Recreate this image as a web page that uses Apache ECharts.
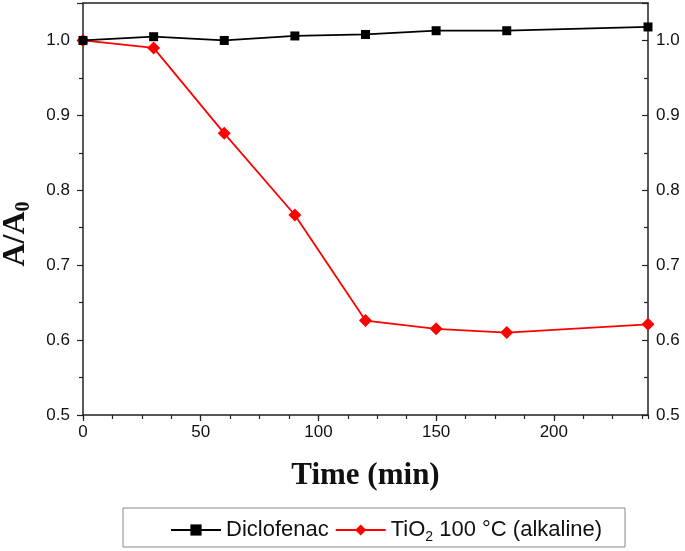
<!DOCTYPE html>
<html><head><meta charset="utf-8">
<script src="https://cdn.jsdelivr.net/npm/echarts@6/dist/echarts.min.js"></script>
<style>html,body{margin:0;padding:0;background:#fff}#c{width:685px;height:551px}</style>
</head><body><div id="c"></div>
<script>
const times = [0, 30, 60, 90, 120, 150, 180, 240];
const diclofenac = [1.0, 1.005, 1.0, 1.006, 1.008, 1.013, 1.013, 1.018];
const tio2 = [1.0, 0.99, 0.876, 0.767, 0.626, 0.615, 0.610, 0.621];
const seriesNames = ['Diclofenac', 'TiO2 100 °C (alkaline)'];

const chart = echarts.init(document.getElementById('c'));
const lab = {fontFamily: 'Liberation Sans', fontSize: 17, color: '#111'};
chart.setOption({
  animation: false,
  grid: {left: 83, right: 37, top: 3, bottom: 136, outerBoundsMode: 'none', containLabel: false},
  graphic: [{type: 'rect', z: -1, shape: {x: 123, y: 508, width: 502, height: 39},
    style: {fill: '#fff', stroke: '#888', lineWidth: 1}}],
  legend: {
    left: 165, top: 514, itemGap: 6, itemWidth: 50, itemHeight: 14,
    textStyle: {fontFamily: 'Liberation Sans', fontSize: 22, color: '#111',
      rich: {sub: {fontFamily: 'Liberation Sans', fontSize: 14, verticalAlign: 'bottom', padding: [14, 0, 0, 0]}}},
    formatter: n => n === seriesNames[1] ? 'TiO{sub|2} 100 °C (alkaline)' : n,
    data: seriesNames
  },
  xAxis: [{
    type: 'value', min: 0, max: 240, interval: 50,
    name: 'Time (min)', nameLocation: 'middle', nameGap: 45,
    nameTextStyle: {fontFamily: 'Liberation Serif', fontWeight: 'bold', fontSize: 31, color: '#111'},
    axisLine: {onZero: false, lineStyle: {color: '#222', width: 1.5}},
    axisTick: {show: true, inside: false, length: 6, lineStyle: {color: '#222', width: 1.2}},
    axisLabel: {...lab, margin: 9, showMaxLabel: false},
    splitLine: {show: false}
  }, {
    type: 'value', min: 0, max: 240, interval: 12.5, position: 'bottom',
    axisLine: {show: false},
    axisTick: {show: true, length: 4, lineStyle: {color: '#222', width: 1.2}},
    axisLabel: {show: false}, splitLine: {show: false}
  }, {
    type: 'value', min: 0, max: 240, position: 'top',
    axisLine: {show: true, lineStyle: {color: '#222', width: 1.5}},
    axisTick: {show: false}, axisLabel: {show: false}, splitLine: {show: false}
  }],
  yAxis: [{
    type: 'value', min: 0.5, max: 1.05, interval: 0.1, position: 'left',
    name: '{a|A/A}{s|0}', nameLocation: 'middle', nameGap: 49,
    nameTextStyle: {padding: [0, 50, 0, 0], rich: {
      a: {fontFamily: 'Liberation Serif', fontWeight: 'bold', fontSize: 32, color: '#111'},
      s: {fontFamily: 'Liberation Serif', fontWeight: 'bold', fontSize: 20, color: '#111', verticalAlign: 'bottom', padding: [16, 0, 0, 0]}}},
    axisLine: {show: true, onZero: false, lineStyle: {color: '#222', width: 1.5}},
    axisTick: {show: true, length: 6, lineStyle: {color: '#222', width: 1.2}},
    minorTick: {show: true, splitNumber: 2, length: 4, lineStyle: {color: '#222', width: 1.2}},
    axisLabel: {...lab, margin: 13, formatter: v => v.toFixed(1), showMaxLabel: false},
    splitLine: {show: false}
  }, {
    type: 'value', min: 0.5, max: 1.05, interval: 0.1, position: 'right',
    axisLine: {show: true, onZero: false, lineStyle: {color: '#222', width: 1.5}},
    axisTick: {show: true, inside: true, length: 6, lineStyle: {color: '#222', width: 1.2}},
    minorTick: {show: true, splitNumber: 2, length: 4, lineStyle: {color: '#222', width: 1.2}},
    axisLabel: {...lab, margin: 8, formatter: v => v.toFixed(1), showMaxLabel: false},
    splitLine: {show: false}
  }],
  series: [{
    name: seriesNames[0], type: 'line', xAxisIndex: 0, yAxisIndex: 0,
    data: times.map((t, i) => [t, diclofenac[i]]),
    symbol: 'rect', symbolSize: 9, showAllSymbol: true,
    lineStyle: {color: '#000', width: 1.8}, itemStyle: {color: '#000'}, z: 3
  }, {
    name: seriesNames[1], type: 'line', xAxisIndex: 0, yAxisIndex: 0,
    data: times.map((t, i) => [t, tio2[i]]),
    symbol: 'diamond', symbolSize: 13, showAllSymbol: true,
    lineStyle: {color: '#ff0000', width: 1.8}, itemStyle: {color: '#ff0000'}, z: 2
  }]
});
</script></body></html>
